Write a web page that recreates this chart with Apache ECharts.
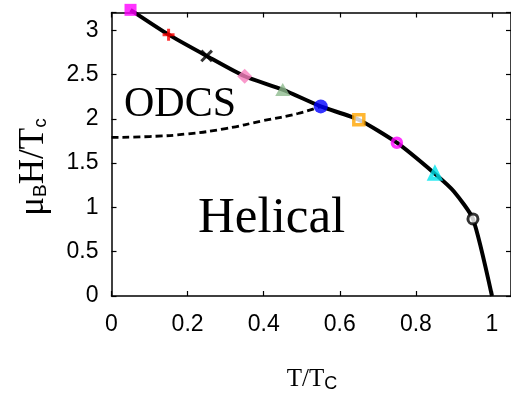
<!DOCTYPE html>
<html><head><meta charset="utf-8">
<script src="https://cdn.jsdelivr.net/npm/echarts@6/dist/echarts.min.js"></script>
<style>html,body{margin:0;padding:0;background:#fff}#c{width:511px;height:398px}</style>
</head><body><div id="c"></div>
<script>
// Phase boundary markers (T/Tc, muB H/Tc)
const markerT = [0.05, 0.15, 0.25, 0.35, 0.45, 0.55, 0.65, 0.75, 0.85, 0.95];
const markerH = [3.23, 2.95, 2.71, 2.48, 2.33, 2.14, 1.99, 1.73, 1.38, 0.87];
// Solid boundary line
const lineT = [0.05, 0.15, 0.25, 0.35, 0.45, 0.55, 0.65, 0.75, 0.85, 0.9, 0.95, 1.0];
const lineH = [3.23, 2.95, 2.71, 2.48, 2.33, 2.14, 1.99, 1.73, 1.38, 1.18, 0.87, 0];
// Dashed ODCS/Helical boundary
const dashT = [0, 0.1, 0.2, 0.3, 0.4, 0.49, 0.55];
const dashH = [1.79, 1.80, 1.83, 1.89, 1.98, 2.06, 2.14];
const xTicks = [0, 0.2, 0.4, 0.6, 0.8, 1];
const yTicks = [0, 0.5, 1, 1.5, 2, 2.5, 3];

const plusPath = 'path://M3,0H5V3H8V5H5V8H3V5H0V3H3Z';
const xPath = 'path://M3.2,0H4.8V3.2H8V4.8H4.8V8H3.2V4.8H0V3.2H3.2Z';
const markerStyles = [
  {symbol:'rect', symbolSize:12, itemStyle:{color:'#ff00ff'}},
  {symbol:plusPath, symbolSize:12, itemStyle:{color:'#ff0000'}},
  {symbol:xPath, symbolSize:15, symbolRotate:45, itemStyle:{color:'#000000'}},
  {symbol:'diamond', symbolSize:[15,15], itemStyle:{color:'#f77fbe'}},
  {symbol:'triangle', symbolSize:[15,13], itemStyle:{color:'#8fbc8f'}},
  {symbol:'circle', symbolSize:14, itemStyle:{color:'#0000ff'}},
  {symbol:'rect', symbolSize:10, itemStyle:{color:'#ffffff', borderColor:'#ffa500', borderWidth:3.5}},
  {symbol:'circle', symbolSize:9, itemStyle:{color:'rgba(0,0,0,0)', borderColor:'#ff00ff', borderWidth:3.5}},
  {symbol:'triangle', symbolSize:10, itemStyle:{color:'rgba(0,0,0,0)', borderColor:'#00e5ee', borderWidth:4}},
  {symbol:'circle', symbolSize:10, itemStyle:{color:'#ffffff', borderColor:'#000000', borderWidth:3}}
];

const chart = echarts.init(document.getElementById('c'), null, {renderer:'canvas'});
const lbl = {fontFamily:'Liberation Sans, Arial, sans-serif', fontSize:23, color:'#000'};
const axLine = {show:true, onZero:false, lineStyle:{color:'#000', width:1.5}};
const tick = {show:true, inside:true, length:5, lineStyle:{color:'#000', width:1.2}};
chart.setOption({
  animation:false,
  grid:{left:111.5, top:12.5, right:-1.5, bottom:102},
  xAxis:[
    {type:'value', min:0, max:1.05, interval:0.2, position:'bottom',
     axisLine:axLine, axisTick:tick, splitLine:{show:false},
     axisLabel:Object.assign({margin:17, customValues:xTicks,
       formatter:v=>String(+v.toFixed(1))}, lbl)},
    {type:'value', min:0, max:1.05, interval:0.2, position:'top',
     axisLine:axLine, axisTick:tick, splitLine:{show:false}, axisLabel:{show:false}}
  ],
  yAxis:[
    {type:'value', min:0, max:3.2, interval:0.5, position:'left',
     axisLine:axLine, axisTick:tick, splitLine:{show:false},
     axisLabel:Object.assign({margin:13, customValues:yTicks,
       formatter:v=>String(+v.toFixed(1))}, lbl)},
    {type:'value', min:0, max:3.2, interval:0.5, position:'right',
     axisLine:axLine, axisTick:tick, splitLine:{show:false}, axisLabel:{show:false}}
  ],
  series:[
    {type:'line', data:dashT.map((t,i)=>[t,dashH[i]]), smooth:true, showSymbol:false, clip:false,
     lineStyle:{color:'#000', width:2.8, type:[7,4]}, z:2},
    {type:'line', data:lineT.map((t,i)=>[t,lineH[i]]), smooth:0.2, showSymbol:false, clip:false,
     lineStyle:{color:'#000', width:4}, z:3},
    {type:'scatter', z:5, clip:false,
     data:markerT.map((t,i)=>Object.assign({value:[t,markerH[i]]}, markerStyles[i]))}
  ],
  graphic:[
    {type:'text', left:124, top:84, style:{text:'ODCS', font:'42px "Liberation Serif", "Times New Roman", serif', fill:'#000'}},
    {type:'text', left:198, top:193, style:{text:'Helical', font:'51px "Liberation Serif", "Times New Roman", serif', fill:'#000'}},
    {type:'text', x:312, y:379, style:{
      text:'{a|T/T}{b|C}', align:'center', verticalAlign:'middle',
      rich:{a:{font:'25px "Liberation Serif", serif', fill:'#000'},
            b:{font:'18px "Liberation Sans", sans-serif', fill:'#000', padding:[10,0,0,0]}}}},
    {type:'text', x:34, y:167, rotation:Math.PI/2, style:{
      text:'{a|μ}{b|B}{a|H/T}{b|c}', align:'center', verticalAlign:'middle',
      rich:{a:{font:'35px "Liberation Serif", serif', fill:'#000'},
            b:{font:'19px "Liberation Sans", sans-serif', fill:'#000', padding:[14,0,0,0]}}}}
  ]
});
</script></body></html>
